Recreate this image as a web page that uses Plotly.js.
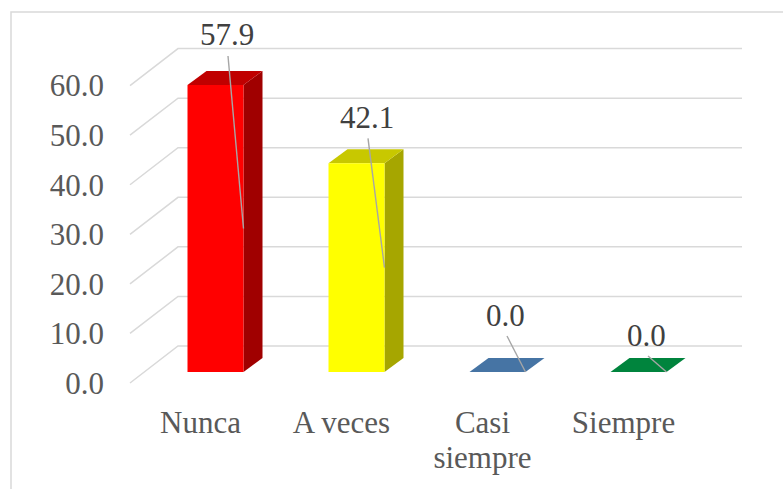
<!DOCTYPE html>
<html><head><meta charset="utf-8">
<script src="https://cdn.plot.ly/plotly-3.0.1.min.js"></script>
<style>html,body{margin:0;padding:0;background:#fff}#chart{width:783px;height:489px}</style>
</head><body><div id="chart"></div>
<script>
// ---- data ----
const categories = ['Nunca', 'A veces', 'Casi siempre', 'Siempre'];
const tickLabels = ['Nunca', 'A veces', 'Casi<br>siempre', 'Siempre'];
const values = [57.9, 42.1, 0.0, 0.0];
const yTickVals = [0, 10, 20, 30, 40, 50, 60];
const yTickText = ['0.0', '10.0', '20.0', '30.0', '40.0', '50.0', '60.0'];

// ---- styles ----
const frontColors = ['#ff0000', '#ffff00', '#4674a4', '#00843d'];
const topColors = ['#c00000', '#c8c800', '#4674a4', '#00843d'];
const sideColors = ['#a00000', '#a6a600', '#3a6088', '#006d32'];
const FONT = 'Liberation Serif';
// label offsets (px, screen direction) from each bar's front-top centre
const labelOffsetPx = [[11, -50], [10, -46], [8, -57], [8, -37]];

// ---- geometry (pixels) ----
const W = 783, H = 489;
const M = {l: 125, r: 38, t: 15, b: 101};
const plotW = W - M.l - M.r, plotH = H - M.t - M.b;
const PX_X = 141, PX_Y = 4.957;           // px per data unit
const xr0 = -0.5 - 5 / PX_X;
const yr0 = -5 / PX_Y;
const xRange = [xr0, xr0 + plotW / PX_X];
const yRange = [yr0, yr0 + plotH / PX_Y];
const du = px => px / PX_X;               // screen px -> x units
const dv = py => -py / PX_Y;              // screen px (down +) -> y units
const floorToBack = [48, -37];
const floorToBarFront = [15, -11];
const barDepth = [19, -14];
const barHalfW = 28;
const gridRightPx = 742;
const xStandoff = 13, lineGap = 35;

const traces = [];

// gridlines (front floor edge -> back wall -> right)
const gx = [], gy = [];
const uL = -0.5, uR = xr0 + du(gridRightPx - M.l);
yTickVals.forEach(v => {
  gx.push(uL, uL + du(floorToBack[0]), uR, null);
  gy.push(v, v + dv(floorToBack[1]), v + dv(floorToBack[1]), null);
});
traces.push({x: gx, y: gy, mode: 'lines', line: {color: '#d9d9d9', width: 1.5}, hoverinfo: 'skip', showlegend: false});

const annotations = [];
const lx = [], ly = [];
values.forEach((val, i) => {
  const c = i;
  const fx = c + du(floorToBarFront[0]);
  const fy = dv(floorToBarFront[1]);
  const hw = du(barHalfW);
  const ddx = du(barDepth[0]), ddy = dv(barDepth[1]);
  const L = fx - hw, R = fx + hw, B = fy, T = fy + val;
  const poly = (xs, ys, col) => traces.push({x: xs, y: ys, mode: 'lines', fill: 'toself', fillcolor: col,
    line: {width: 0, color: col}, hoverinfo: 'skip', showlegend: false});
  if (val > 0) {
    poly([R, R, R + ddx, R + ddx, R], [B, T, T + ddy, B + ddy, B], sideColors[i]);
  }
  poly([L, R, R + ddx, L + ddx, L], [T, T, T + ddy, T + ddy, T], topColors[i]);
  if (val > 0) {
    poly([L, R, R, L, L], [B, B, T, T, B], frontColors[i]);
  }
  const ax = fx + du(labelOffsetPx[i][0]);
  const ay = T + dv(labelOffsetPx[i][1]);
  annotations.push({x: ax, y: ay, xref: 'x', yref: 'y', text: val.toFixed(1), showarrow: false,
    xanchor: 'center', yanchor: 'middle', font: {family: FONT, size: 31, color: '#404040'}});
  lx.push(ax + du(1.5), R, null);
  ly.push(ay + dv(21), B + val / 2, null);
});
traces.push({x: lx, y: ly, mode: 'lines', line: {color: '#a6a6a6', width: 1.4}, hoverinfo: 'skip', showlegend: false});
// dummy trace on the second x axis so it is drawn
traces.push({x: [xRange[0]], y: [yRange[0]], xaxis: 'x2', mode: 'markers', marker: {opacity: 0}, hoverinfo: 'skip', showlegend: false});

const line1 = tickLabels.map(t => t.split('<br>')[0]);
const line2 = tickLabels.map(t => t.split('<br>')[1] || '');

const toPaperX = px => (px - M.l) / plotW;
const toPaperY = py => (M.t + plotH - py) / plotH;
const tickFont = {family: FONT, size: 31, color: '#595959'};

const layout = {
  width: W, height: H,
  margin: M,
  paper_bgcolor: '#ffffff', plot_bgcolor: 'rgba(0,0,0,0)',
  showlegend: false,
  xaxis: {range: xRange, tickvals: [0, 1, 2, 3], ticktext: line1, showgrid: false, zeroline: false,
    showline: false, ticks: '', ticklabelstandoff: xStandoff, tickfont: tickFont, fixedrange: true},
  xaxis2: {range: xRange, overlaying: 'x', anchor: 'y', side: 'bottom', tickvals: [0, 1, 2, 3], ticktext: line2,
    showgrid: false, zeroline: false, showline: false, ticks: '', ticklabelstandoff: xStandoff + lineGap,
    tickfont: tickFont, fixedrange: true},
  yaxis: {range: yRange, tickvals: yTickVals, ticktext: yTickText, showgrid: false, zeroline: false,
    showline: false, ticks: '', ticklabelstandoff: 20, tickfont: tickFont, fixedrange: true},
  annotations: annotations,
  shapes: [{type: 'rect', xref: 'paper', yref: 'paper', x0: toPaperX(11), x1: toPaperX(820),
    y0: toPaperY(12), y1: toPaperY(520), line: {color: '#d9d9d9', width: 1.5}, fillcolor: 'rgba(0,0,0,0)', layer: 'below'}]
};

Plotly.newPlot('chart', traces, layout, {displayModeBar: false, staticPlot: true});
</script>
</body></html>
